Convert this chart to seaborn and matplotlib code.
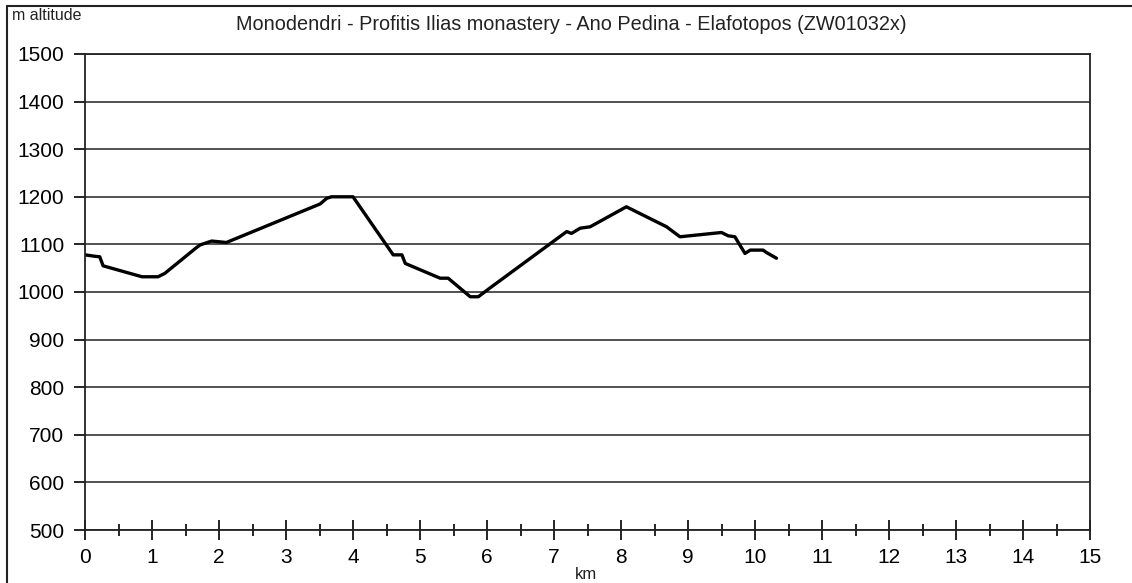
import numpy as np
import pandas as pd
import seaborn as sns
import matplotlib.pyplot as plt
from matplotlib.lines import Line2D

sns.set_theme(style="white")
plt.rcParams['font.family'] = ['Liberation Sans', 'DejaVu Sans']

# distance (km) and altitude (m)
km = [0.0, 0.15, 0.22, 0.27, 0.85, 1.09, 1.19, 1.67, 1.72, 1.89, 2.11,
      3.51, 3.61, 3.68, 4.0, 4.60, 4.73, 4.78, 5.30, 5.42, 5.75, 5.87,
      6.04, 7.19, 7.26, 7.39, 7.54, 8.08, 8.68, 8.88, 9.50, 9.60, 9.70,
      9.85, 9.93, 10.12, 10.17, 10.32]
altitude = [1078, 1075, 1074, 1055, 1032, 1032, 1039, 1094, 1099, 1107, 1104,
            1185, 1197, 1200, 1200, 1078, 1078, 1060, 1029, 1029, 990, 990,
            1008, 1127, 1123, 1134, 1137, 1179, 1137, 1116, 1125, 1118, 1116,
            1081, 1088, 1088, 1083, 1071]

title = "Monodendri - Profitis Ilias monastery - Ano Pedina - Elafotopos (ZW01032x)"
df = pd.DataFrame({"km": km, "alt": altitude})

fig = plt.figure(figsize=(11.32, 5.83), dpi=100)
ax = fig.add_axes([0.0751, 0.0909, 0.8878, 0.8165])

sns.lineplot(data=df, x="km", y="alt", sort=False, color="black", linewidth=2.4, ax=ax)

ax.set_xlim(0, 15)
ax.set_ylim(500, 1500)
ax.set_xticks(range(0, 16))
ax.set_xticks(np.arange(0.5, 15, 1), minor=True)
ax.set_yticks(range(500, 1501, 100))
ax.tick_params(axis="x", which="both", bottom=True)
ax.tick_params(axis="y", which="major", left=True)
ax.tick_params(axis="x", which="major", direction="inout", length=14, width=1.2,
               colors="black", labelsize=15, pad=6)
ax.tick_params(axis="x", which="minor", direction="inout", length=9, width=1.2,
               colors="black")
ax.tick_params(axis="y", which="major", direction="out", length=8, width=1.2,
               colors="black", labelsize=15, pad=7)
ax.set_xlabel("")
ax.set_ylabel("")
ax.yaxis.grid(True, color="#333333", linewidth=1.2)
ax.set_axisbelow(True)
for s in ["left", "bottom", "right", "top"]:
    ax.spines[s].set_color("#222222")
    ax.spines[s].set_linewidth(1.3)

fig.text(0.505, 0.958, title, ha="center", va="center", fontsize=14.3, color="#222222")
fig.text(0.011, 0.973, "m altitude", ha="left", va="center", fontsize=11.5, color="#222222")
fig.text(0.518, 0.014, "km", ha="center", va="center", fontsize=12, color="#222222")

# outer frame (top and left edges)
fig.add_artist(Line2D([0.006, 1.0], [0.990, 0.990], transform=fig.transFigure,
                      color="#222222", linewidth=1.5))
fig.add_artist(Line2D([0.006, 0.006], [0.0, 0.990], transform=fig.transFigure,
                      color="#222222", linewidth=1.5))

fig.savefig("out.png", dpi=100)
